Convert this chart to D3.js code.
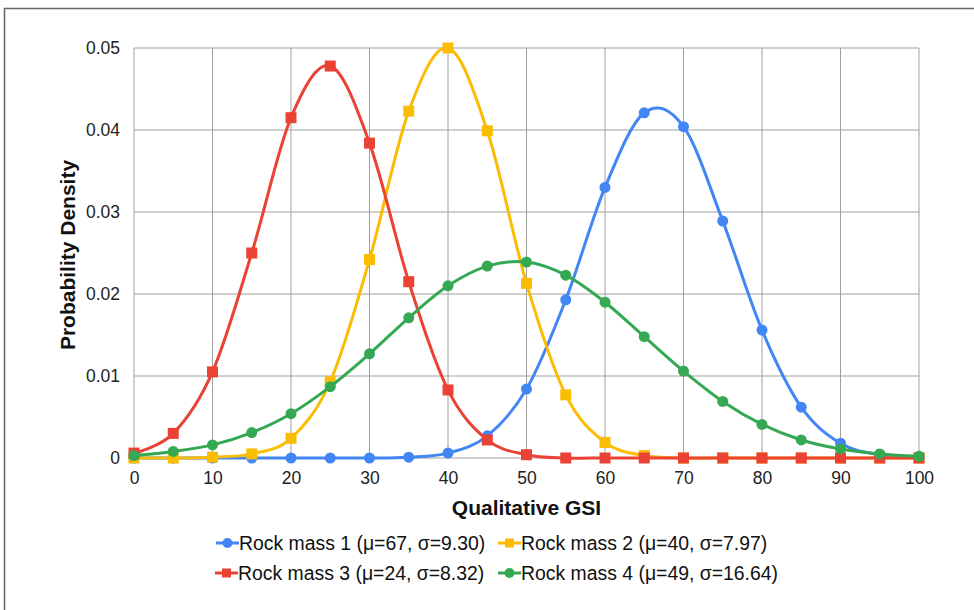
<!DOCTYPE html>
<html>
<head>
<meta charset="utf-8">
<script src="https://cdn.jsdelivr.net/npm/d3@7"></script>
<style>
  body { margin: 0; background: #fff; }
  svg { display: block; font-family: "Liberation Sans", Arial, sans-serif; }
</style>
</head>
<body>
<svg id="chart" width="974" height="610"></svg>
<script>
// x positions (Qualitative GSI)
var gsi = [0, 5, 10, 15, 20, 25, 30, 35, 40, 45, 50, 55, 60, 65, 70, 75, 80, 85, 90, 95, 100];

// values
var rock1 = [0, 0, 0, 0, 0, 0, 0, 0.0001, 0.0006, 0.0027, 0.0084, 0.0193, 0.0330, 0.0421, 0.0404, 0.0289, 0.0156, 0.0062, 0.0018, 0.0004, 0.0001];
var rock2 = [0, 0, 0.0001, 0.0005, 0.0024, 0.0093, 0.0242, 0.0423, 0.0500, 0.0399, 0.0213, 0.0077, 0.0019, 0.0003, 0, 0, 0, 0, 0, 0, 0];
var rock3 = [0.0006, 0.0030, 0.0105, 0.0250, 0.0415, 0.0478, 0.0384, 0.0215, 0.0083, 0.0022, 0.0004, 0, 0, 0, 0, 0, 0, 0, 0, 0, 0];
var rock4 = [0.0003, 0.0008, 0.0016, 0.0031, 0.0054, 0.0087, 0.0127, 0.0171, 0.0210, 0.0234, 0.0239, 0.0223, 0.0190, 0.0148, 0.0106, 0.0069, 0.0041, 0.0022, 0.0011, 0.0005, 0.0002];

var seriesNames = ["Rock mass 1 (\u03bc=67, \u03c3=9.30)", "Rock mass 2 (\u03bc=40, \u03c3=7.97)",
                   "Rock mass 3 (\u03bc=24, \u03c3=8.32)", "Rock mass 4 (\u03bc=49, \u03c3=16.64)"];
var xTicks = [0, 10, 20, 30, 40, 50, 60, 70, 80, 90, 100];
var yTicks = [0, 0.01, 0.02, 0.03, 0.04, 0.05];

var colors = ["#4285f4", "#fbbc04", "#ea4335", "#34a853"];
var shapes = ["circle", "square", "square", "circle"];
var series = [rock1, rock2, rock3, rock4].map(function (vals, i) {
    return {name: seriesNames[i], color: colors[i], shape: shapes[i],
            points: vals.map(function (v, j) { return {x: gsi[j], y: v}; })};
});

var svg = d3.select("#chart");

// outer frame (only left/top edges visible in the picture)
svg.append("rect")
    .attr("x", 4.5).attr("y", 8.5)
    .attr("width", 1000).attr("height", 700)
    .attr("fill", "none")
    .attr("stroke", "#666")
    .attr("stroke-width", 1.5);

var plot = {left: 134, right: 919, top: 48, bottom: 458};

var x = d3.scaleLinear().domain([0, 100]).range([plot.left, plot.right]);
var y = d3.scaleLinear().domain([0, 0.05]).range([plot.bottom, plot.top]);

// gridlines
var grid = svg.append("g").attr("class", "grid");
grid.selectAll("line.v").data(xTicks).enter().append("line")
    .attr("x1", function (d) { return x(d); }).attr("x2", function (d) { return x(d); })
    .attr("y1", plot.top).attr("y2", plot.bottom)
    .attr("stroke", "#a0a0a0").attr("stroke-width", 1);
grid.selectAll("line.h").data(yTicks).enter().append("line")
    .attr("x1", plot.left).attr("x2", plot.right)
    .attr("y1", function (d) { return y(d); }).attr("y2", function (d) { return y(d); })
    .attr("stroke", "#a0a0a0").attr("stroke-width", 1);

// axes (labels only)
var xAxis = d3.axisBottom(x).tickValues(xTicks).tickSize(0).tickPadding(14)
    .tickFormat(d3.format("d"));
svg.append("g")
    .attr("transform", "translate(0," + plot.bottom + ")")
    .call(xAxis)
    .call(function (g) { g.select(".domain").remove(); })
    .selectAll("text")
    .attr("font-size", "17.5px").attr("fill", "#222")
    .attr("font-family", "Liberation Sans, Arial, sans-serif");

var yAxis = d3.axisLeft(y).tickValues(yTicks).tickSize(0).tickPadding(14)
    .tickFormat(function (d) { return d === 0 ? "0" : d3.format(".2f")(d); });
svg.append("g")
    .attr("transform", "translate(" + plot.left + ",0)")
    .call(yAxis)
    .call(function (g) { g.select(".domain").remove(); })
    .selectAll("text")
    .attr("font-size", "17.5px").attr("fill", "#222")
    .attr("font-family", "Liberation Sans, Arial, sans-serif");

// axis titles
svg.append("text")
    .attr("x", (plot.left + plot.right) / 2).attr("y", 515)
    .attr("text-anchor", "middle")
    .attr("font-size", "21px").attr("font-weight", "bold").attr("fill", "#111")
    .text("Qualitative GSI");

svg.append("text")
    .attr("transform", "translate(75," + ((plot.top + plot.bottom) / 2 + 2) + ") rotate(-90)")
    .attr("text-anchor", "middle")
    .attr("font-size", "21px").attr("font-weight", "bold").attr("fill", "#111")
    .text("Probability Density");

// lines
var line = d3.line()
    .x(function (d) { return x(d.x); })
    .y(function (d) { return y(d.y); })
    .curve(d3.curveCardinal.tension(0));

function drawMarker(g, shape, color, size) {
    if (shape === "circle") {
        g.append("circle").attr("r", size / 2).attr("fill", color);
    } else {
        g.append("rect")
            .attr("x", -size / 2).attr("y", -size / 2)
            .attr("width", size).attr("height", size)
            .attr("fill", color);
    }
}

var seriesG = svg.append("g").attr("class", "series");
series.forEach(function (s) {
    var g = seriesG.append("g");
    g.append("path")
        .datum(s.points)
        .attr("d", line)
        .attr("fill", "none")
        .attr("stroke", s.color)
        .attr("stroke-width", 3);
    g.selectAll("g.pt").data(s.points).enter().append("g")
        .attr("transform", function (d) { return "translate(" + x(d.x) + "," + y(d.y) + ")"; })
        .each(function () { drawMarker(d3.select(this), s.shape, s.color, s.shape === "circle" ? 11 : 11); });
});

// legend
var legendPos = [[216, 543], [498, 543], [215, 573], [498, 573]];
series.forEach(function (s, i) {
    var g = svg.append("g")
        .attr("transform", "translate(" + legendPos[i][0] + "," + legendPos[i][1] + ")");
    g.append("line")
        .attr("x1", 0).attr("x2", 23).attr("y1", 0).attr("y2", 0)
        .attr("stroke", s.color).attr("stroke-width", 3);
    var m = g.append("g").attr("transform", "translate(11.5,0)");
    drawMarker(m, s.shape, s.color, s.shape === "circle" ? 10 : 9);
    g.append("text")
        .attr("x", 23).attr("y", 0).attr("dy", "0.35em")
        .attr("font-size", "19.4px").attr("fill", "#111")
        .text(s.name);
});
</script>
</body>
</html>
